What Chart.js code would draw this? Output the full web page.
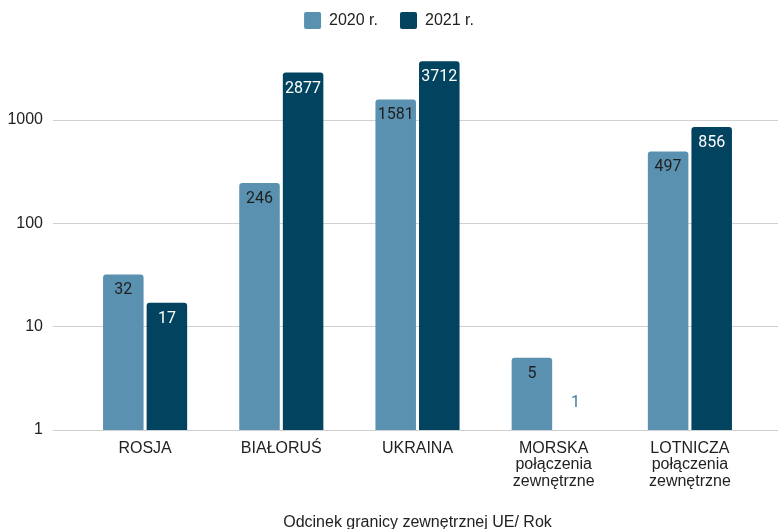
<!DOCTYPE html>
<html>
<head>
<meta charset="utf-8">
<script src="https://cdn.jsdelivr.net/npm/chart.js@4/dist/chart.umd.min.js"></script>
<style>
  html, body { margin: 0; padding: 0; background: #fff; }
  #wrap { width: 778px; height: 529px; }
</style>
</head>
<body>
<div id="wrap"><canvas id="barchart"></canvas></div>
<script>
'use strict';
const categories = ['ROSJA', 'BIAŁORUŚ', 'UKRAINA', ['MORSKA', 'połączenia', 'zewnętrzne'], ['LOTNICZA', 'połączenia', 'zewnętrzne']];
const values2020 = [32, 246, 1581, 5, 497];
const values2021 = [17, 2877, 3712, 1, 856];
const seriesNames = ['2020 r.', '2021 r.'];
const yTicks = [1, 10, 100, 1000];
const axisTitle = 'Odcinek granicy zewnętrznej UE/ Rok';

const gridColor = '#d0d0d0';
const labelFont = '"Liberation Sans", Arial, sans-serif';
const yMax = 6085;

// value labels drawn at the top of each bar
const barLabels = {
    id: 'barLabels',
    afterDatasetsDraw(chart) {
        const ctx = chart.ctx;
        ctx.save();
        ctx.font = '16px Roboto';
        ctx.textAlign = 'center';
        ctx.textBaseline = 'middle';
        chart.data.datasets.forEach((ds, i) => {
            chart.getDatasetMeta(i).data.forEach((bar, j) => {
                const h = bar.base - bar.y;
                if (h > 28) {
                    ctx.fillStyle = i === 0 ? '#1f1f1f' : '#ffffff';
                    ctx.fillText(ds.data[j], bar.x, bar.y + 16);
                } else {
                    ctx.fillStyle = '#3f7d9b';
                    ctx.fillText(ds.data[j], bar.x, bar.y - 27);
                }
            });
        });
        ctx.restore();
    }
};

const barChart = () => {
    new Chart(document.querySelector('#barchart'), {
        type: 'bar',
        data: {
            labels: categories,
            datasets: [{
                label: seriesNames[0],
                data: values2020,
                backgroundColor: '#5a91b0',
                borderRadius: 3,
                yAxisID: 'y'
            },
            {
                label: seriesNames[1],
                data: values2021,
                backgroundColor: '#02445f',
                borderRadius: 3,
                yAxisID: 'y'
            }]
        },
        options: {
            responsive: true,
            maintainAspectRatio: false,
            animation: false,
            categoryPercentage: 0.64,
            barPercentage: 0.93,
            layout: { padding: { top: -10, left: 0, right: 0, bottom: -3 } },
            plugins: {
                tooltip: { enabled: false },
                legend: {
                    position: 'top',
                    labels: {
                        color: '#222',
                        font: { family: labelFont, size: 16 },
                        boxWidth: 17,
                        boxHeight: 17,
                        padding: 22,
                        useBorderRadius: true,
                        borderRadius: 2
                    }
                }
            },
            scales: {
                x: {
                    grid: { display: false },
                    border: { display: false },
                    ticks: {
                        color: '#222',
                        padding: 2,
                        maxRotation: 0,
                        autoSkip: false,
                        font: { family: labelFont, size: 16, lineHeight: 1.03 }
                    },
                    title: {
                        display: true,
                        text: axisTitle,
                        color: '#222',
                        font: { family: labelFont, size: 16 },
                        padding: { top: 0, bottom: 0 }
                    },
                    afterFit: s => { s.height = 102; }
                },
                y: {
                    type: 'logarithmic',
                    position: 'left',
                    min: 1,
                    max: yMax,
                    border: { display: false },
                    grid: { color: gridColor, tickLength: 24, tickColor: gridColor },
                    ticks: {
                        color: '#222',
                        padding: 10,
                        font: { family: labelFont, size: 16 },
                        callback: v => String(v)
                    },
                    afterBuildTicks: s => { s.ticks = yTicks.map(v => ({ value: v })); },
                    afterFit: s => { s.width = 77; }
                },
                yRight: {
                    type: 'logarithmic',
                    position: 'right',
                    min: 1,
                    max: yMax,
                    border: { display: false },
                    grid: { drawOnChartArea: false, color: gridColor, tickLength: 20, tickColor: gridColor },
                    ticks: { display: true, padding: 0, callback: () => '' },
                    afterBuildTicks: s => { s.ticks = yTicks.map(v => ({ value: v })); },
                    afterFit: s => { s.width = 20; }
                }
            }
        },
        plugins: [barLabels]
    });
};

barChart();
</script>
</body>
</html>
